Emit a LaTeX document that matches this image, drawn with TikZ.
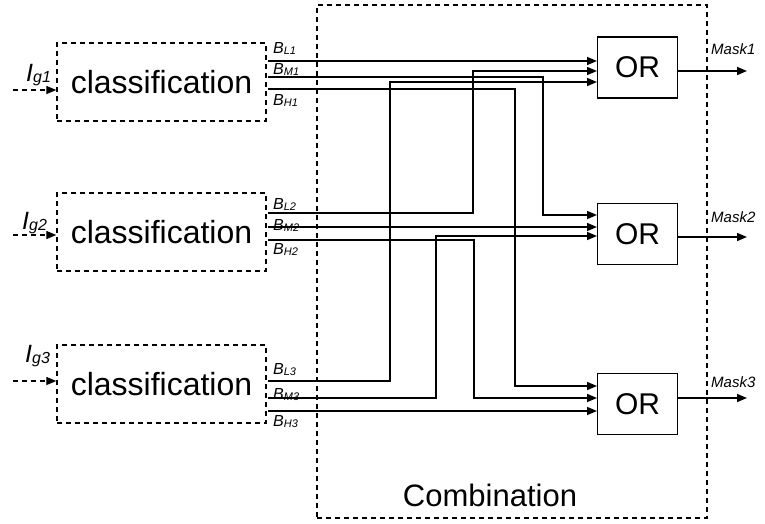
\documentclass[tikz,border=0pt]{standalone}
\usepackage{fontspec}
\setmainfont{Liberation Sans}
\usetikzlibrary{arrows.meta}
\newcommand{\sublbl}[4]{{\fontsize{#3}{#3}\selectfont\itshape #1}\raisebox{-0.3ex}{\fontsize{#4}{#4}\selectfont\itshape #2}}
\tikzset{
  wire/.style={line width=1.5pt},
  tip/.style={-{Triangle[length=10pt,width=8pt]}},
  dashbox/.style={draw,line width=1.4pt,dash pattern=on 5pt off 4pt},
  clsbox/.style={dashbox,minimum width=209pt,minimum height=78pt,inner sep=0pt,font=\fontsize{32}{32}\selectfont},
  orbox/.style={draw,line width=1.5pt,minimum width=80pt,minimum height=61pt,inner sep=0pt,font=\fontsize{30}{30}\selectfont},
  blbl/.style={anchor=base west,inner sep=0pt},
}
\begin{document}
\begin{tikzpicture}[x=1pt,y=-1pt]
\useasboundingbox (0,0) rectangle (765,523);
% boxes
\node[dashbox,minimum width=390pt,minimum height=513pt,inner sep=0pt] (comb) at (512,261.5) {};
\node[font=\fontsize{31}{31}\selectfont] (combl) at (490,495) {Combination};
\node[clsbox] (cls1) at (161.5,82) {classification};
\node[clsbox] (cls2) at (161.5,232) {classification};
\node[clsbox] (cls3) at (161.5,384) {classification};
\node[orbox] (or1) at (637.5,67.5) {OR};
\node[orbox] (or2) at (637.5,234) {OR};
\node[orbox] (or3) at (637.5,404) {OR};
% inputs
\coordinate (in1) at (13,90);
\coordinate (in2) at (13,235);
\coordinate (in3) at (13,381);
\draw[wire,line width=1.3pt,dash pattern=on 5pt off 4pt,tip] (in1) -- (in1 -| cls1.west);
\draw[wire,line width=1.3pt,dash pattern=on 5pt off 4pt,tip] (in2) -- (in2 -| cls2.west);
\draw[wire,line width=1.3pt,dash pattern=on 5pt off 4pt,tip] (in3) -- (in3 -| cls3.west);
\node[blbl] (ig1) at (26,81) {\sublbl{I}{g1}{25}{16}};
\node[blbl] (ig2) at (22,229) {\sublbl{I}{g2}{25}{16}};
\node[blbl] (ig3) at (25,362) {\sublbl{I}{g3}{25}{16}};
% B labels
\node[blbl] (lbl1) at (273,53) {\sublbl{B}{L1}{16}{11}};
\node[blbl] (lbm1) at (273,74) {\sublbl{B}{M1}{16}{11}};
\node[blbl] (lbh1) at (273,105) {\sublbl{B}{H1}{16}{11}};
\node[blbl] (lbl2) at (273,209) {\sublbl{B}{L2}{16}{11}};
\node[blbl] (lbm2) at (273,230) {\sublbl{B}{M2}{16}{11}};
\node[blbl] (lbh2) at (273,254) {\sublbl{B}{H2}{16}{11}};
\node[blbl] (lbl3) at (273,374) {\sublbl{B}{L3}{16}{11}};
\node[blbl] (lbm3) at (273,399) {\sublbl{B}{M3}{16}{11}};
\node[blbl] (lbh3) at (273,426) {\sublbl{B}{H3}{16}{11}};
% wire start points
\coordinate (bl1) at (268,61);
\coordinate (bm1) at (268,77);
\coordinate (bh1) at (268,89);
\coordinate (bl2) at (268,213);
\coordinate (bm2) at (268,227);
\coordinate (bh2) at (268,240);
\coordinate (bl3) at (268,381);
\coordinate (bm3) at (268,398);
\coordinate (bh3) at (268,411);
% OR inputs
\coordinate (o1a) at (597,61);
\coordinate (o1b) at (597,71);
\coordinate (o1c) at (597,82);
\coordinate (o2a) at (597,215);
\coordinate (o2b) at (597,227);
\coordinate (o2c) at (597,236);
\coordinate (o3a) at (597,386);
\coordinate (o3b) at (597,398);
\coordinate (o3c) at (597,411);
% wires
\draw[wire,tip] (bl1) -- (o1a);
\draw[wire,tip] (bm1) -- (543,77) -- (543,215) -- (o2a);
\draw[wire,tip] (bh1) -- (515,89) -- (515,386) -- (o3a);
\draw[wire,tip] (bl2) -- (473,213) -- (473,71) -- (o1b);
\draw[wire,tip] (bm2) -- (o2b);
\draw[wire,tip] (bh2) -- (474,240) -- (474,398) -- (o3b);
\draw[wire,tip] (bl3) -- (390,381) -- (390,82) -- (o1c);
\draw[wire,tip] (bm3) -- (436,398) -- (436,236) -- (o2c);
\draw[wire,tip] (bh3) -- (o3c);
% outputs
\coordinate (m1) at (747,71);
\coordinate (m2) at (747,237);
\coordinate (m3) at (747,398);
\draw[wire,tip] (m1 -| or1.east) -- (m1);
\draw[wire,tip] (m2 -| or2.east) -- (m2);
\draw[wire,tip] (m3 -| or3.east) -- (m3);
\node[blbl,font=\fontsize{15}{15}\selectfont\itshape] (mk1) at (711,54) {Mask1};
\node[blbl,font=\fontsize{15}{15}\selectfont\itshape] (mk2) at (711,222) {Mask2};
\node[blbl,font=\fontsize{15}{15}\selectfont\itshape] (mk3) at (711,387) {Mask3};
\end{tikzpicture}
\end{document}
